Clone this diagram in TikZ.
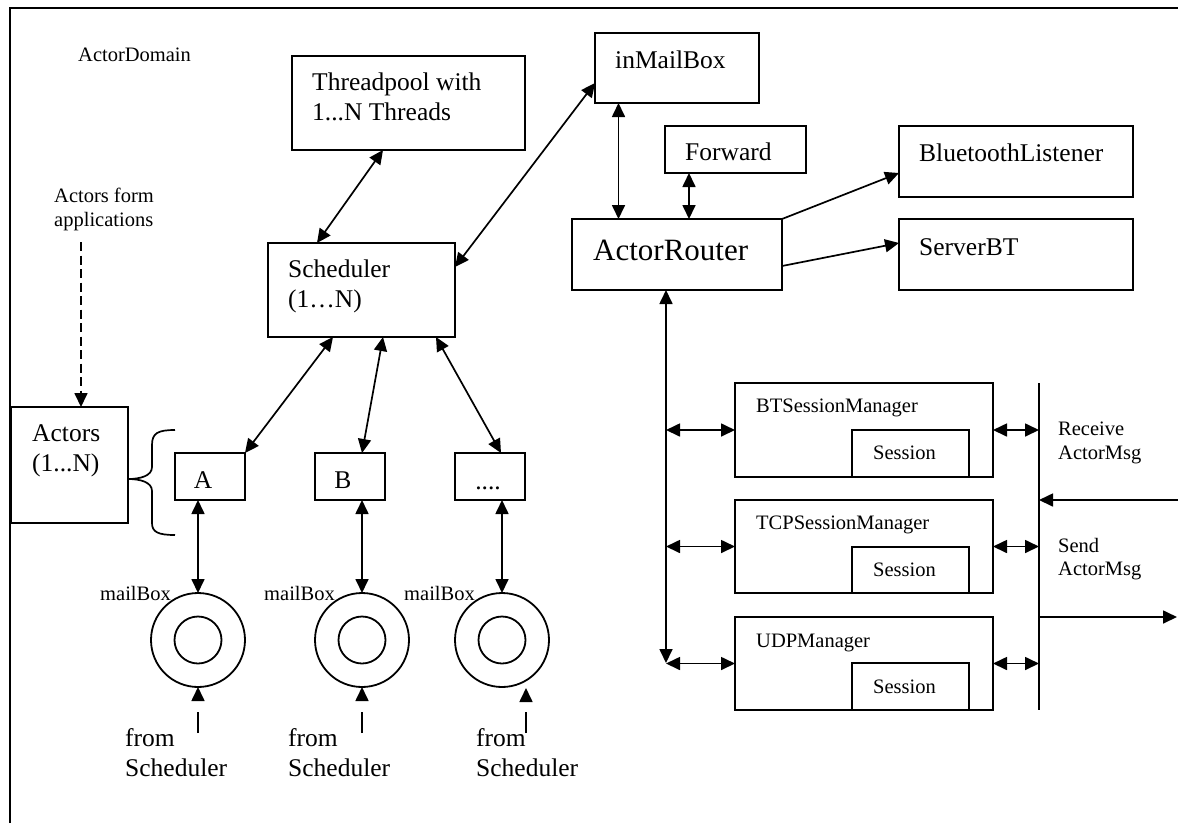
\documentclass[tikz,border=0pt]{standalone}
\usepackage{fontspec}
\setmainfont{Liberation Serif}
\usetikzlibrary{arrows.meta,calc}
\begin{document}
\begin{tikzpicture}[x=1pt,y=-1pt,
  >={Triangle[length=14pt,width=13pt]},
  box/.style={draw,line width=1.8pt,inner sep=0pt,outer sep=0pt,anchor=north west},
  big/.style={font=\fontsize{25.5}{30}\selectfont,inner sep=0pt,anchor=north west,align=left},
  small/.style={font=\fontsize{20.5}{23.5}\selectfont,inner sep=0pt,anchor=north west,align=left},
  both/.style={line width=1.7pt,<->},
  one/.style={line width=1.7pt,->},
  ring/.style={draw,circle,line width=1.8pt,inner sep=0pt,outer sep=0pt,minimum size=94pt},
  core/.style={draw,circle,line width=1.8pt,inner sep=0pt,outer sep=0pt,minimum size=47pt},
]
\useasboundingbox (0,0) rectangle (1178,823);

% domain frame
\draw[line width=2.2pt,line join=miter] (10,823) -- (10,8) -- (1178,8);

% titles
\node[small] (domain) at (78,48) {ActorDomain};
\node[small] (afa) at (54,188) {Actors form\\applications};

% scheduling side
\node[box,minimum width=233pt,minimum height=94pt] (tp) at (292,56) {};
\node[big] (tptxt) at (312,73) {Threadpool with\\1...N Threads};
\node[box,minimum width=187pt,minimum height=94pt] (sched) at (268,243) {};
\node[big] (schedtxt) at (288,260) {Scheduler\\(1…N)};

% actors
\node[box,minimum width=117pt,minimum height=116pt] (actors) at (11,407) {};
\node[big] (actorstxt) at (32,424) {Actors\\(1...N)};
\node[box,minimum width=70pt,minimum height=47pt] (A) at (175,453) {};
\node[box,minimum width=70pt,minimum height=47pt] (B) at (315,453) {};
\node[box,minimum width=70pt,minimum height=47pt] (C) at (455,453) {};
\node[big,anchor=center] (Atxt) at (203,480) {A};
\node[big,anchor=center] (Btxt) at (343,480) {B};
\node[big,anchor=base] (Ctxt) at (488,489) {....};

% brace grouping the actors
\draw[line width=1.7pt] (175,430) .. controls (158,430) and (152,433) .. (152,445)
  -- (152,467) .. controls (152,476) and (140,479) .. (128,479)
  .. controls (140,479) and (152,482) .. (152,491)
  -- (152,523) .. controls (152,532) and (158,535) .. (175,535);

% mailboxes
\foreach \n/\x in {mbA/198,mbB/362,mbC/502}{
  \node[ring] (\n) at (\x,640) {};
  \node[core] (\n i) at (\x,640) {};
}
\node[small] (mbAl) at (100,586) {mailBox};
\node[small] (mbBl) at (264,586) {mailBox};
\node[small] (mbCl) at (404,586) {mailBox};

\node[big] (fsAt) at (125,728) {from\\Scheduler};
\node[big] (fsBt) at (288,728) {from\\Scheduler};
\node[big] (fsCt) at (476,728) {from\\Scheduler};
\coordinate (fsA) at (198,733);
\coordinate (fsB) at (362,733);
\coordinate (fsC) at (526,733);
\coordinate (fsCh) at (526,688);

% router side
\node[box,minimum width=164pt,minimum height=70pt] (inmb) at (595,33) {};
\node[big] (inmbtxt) at (615,51) {inMailBox};
\node[box,minimum width=141pt,minimum height=47pt] (fwd) at (665,126) {};
\node[big] (fwdtxt) at (685,143) {Forward};
\node[box,minimum width=234pt,minimum height=71pt] (bl) at (899,126) {};
\node[big] (bltxt) at (919,144) {BluetoothListener};
\node[box,minimum width=234pt,minimum height=71pt] (sbt) at (899,219) {};
\node[big] (sbttxt) at (919,238) {ServerBT};
\node[box,minimum width=210pt,minimum height=71pt] (ar) at (572,219) {};
\node[big,font=\fontsize{31}{36}\selectfont] (artxt) at (593,240) {ActorRouter};

% session managers
\node[box,minimum width=258pt,minimum height=94pt] (btm) at (735,383) {};
\node[box,minimum width=117pt,minimum height=47pt] (bts) at (852,430) {};
\node[small] (btmtxt) at (756,399) {BTSessionManager};
\node[small] (btstxt) at (873,446) {Session};
\node[box,minimum width=258pt,minimum height=93pt] (tcp) at (735,500) {};
\node[box,minimum width=117pt,minimum height=46pt] (tcps) at (852,547) {};
\node[small] (tcptxt) at (756,516) {TCPSessionManager};
\node[small] (tcpstxt) at (873,563) {Session};
\node[box,minimum width=258pt,minimum height=93pt] (udp) at (735,617) {};
\node[box,minimum width=117pt,minimum height=47pt] (udps) at (852,663) {};
\node[small] (udptxt) at (756,634) {UDPManager};
\node[small] (udpstxt) at (873,680) {Session};

\node[small] (rcv) at (1058,422) {Receive\\ActorMsg};
\node[small] (snd) at (1058,538) {Send\\ActorMsg};

% bus coordinates
\coordinate (lbB) at (666,663);
\coordinate (rbT) at (1039,383);
\coordinate (rbB) at (1039,710);
\coordinate (inR) at (1178,500);
\coordinate (rbIn) at (1039,500);
\coordinate (rbOut) at (1039,617);
\coordinate (outR) at (1177,617);
\coordinate (afaT) at (81,242);

% connectors: scheduling
\draw[both] ([xshift=-25.5pt]tp.south) -- ([xshift=-44.5pt]sched.north);
\draw[both] ([yshift=23pt]sched.east) -- ([yshift=-15pt]inmb.west);
\draw[both] ([xshift=-28.5pt]sched.south) -- (A.north east);
\draw[both] ([xshift=21.5pt]sched.south) -- ([xshift=12pt]B.north);
\draw[both] ([xshift=74.5pt]sched.south) -- ([xshift=11pt]C.north);
\draw[both] ([xshift=-12pt]A.south) -- (mbA.north);
\draw[both] ([xshift=12pt]B.south) -- (mbB.north);
\draw[both] ([xshift=12pt]C.south) -- (mbC.north);
\draw[one,dash pattern=on 9pt off 4.5pt] (afaT) -- ([xshift=11.5pt]actors.north);
\draw[one,dash pattern=on 21pt off 12pt] (fsA) -- (mbA.south);
\draw[one,dash pattern=on 21pt off 12pt] (fsB) -- (mbB.south);
\draw[one,dash pattern=on 21pt off 12pt] (fsC) -- (fsCh);

% connectors: routing
\draw[both] ([xshift=-58.5pt]inmb.south) -- ([xshift=-58.5pt]ar.north);
\draw[both] ([xshift=-46.5pt]fwd.south) -- ([xshift=12pt]ar.north);
\draw[one] (ar.north east) -- ([yshift=-11.5pt]bl.west);
\draw[one] ([yshift=-11.5pt]ar.east) -- ([yshift=11.5pt]sbt.west);
\draw[both] ([xshift=-11pt]ar.south) -- (lbB);
\draw[both] (btm.west -| lbB) -- (btm.west);
\draw[both] (tcp.west -| lbB) -- (tcp.west);
\draw[both] (udp.west -| lbB) -- (udp.west);
\draw[line width=1.7pt] (rbT) -- (rbB);
\draw[both] (btm.east) -- (btm.east -| rbT);
\draw[both] (tcp.east) -- (tcp.east -| rbT);
\draw[both] (udp.east) -- (udp.east -| rbT);
\draw[one] (inR) -- (rbIn);
\draw[one] (rbOut) -- (outR);
\end{tikzpicture}
\end{document}
